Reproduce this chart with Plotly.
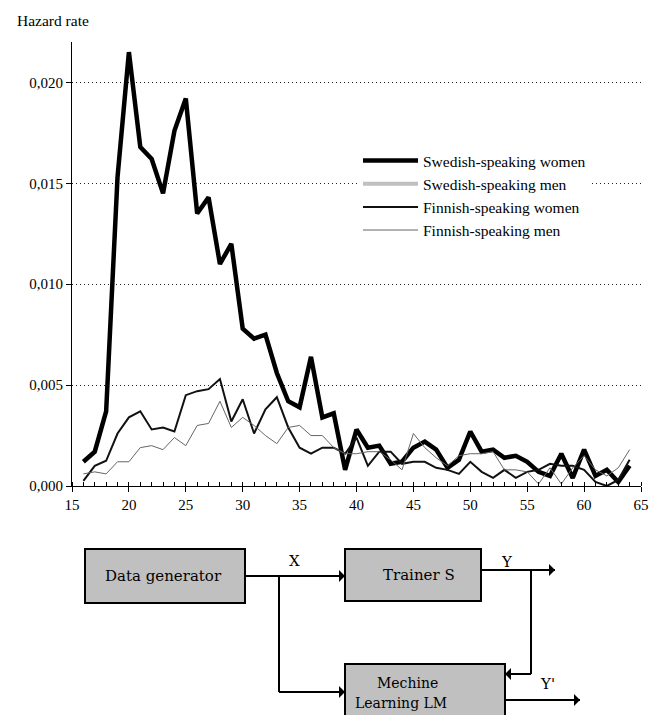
import plotly.graph_objects as go

ages = list(range(16, 65))

swedish_women = [0.0012, 0.0017, 0.0037, 0.0153, 0.0215, 0.0168, 0.0162, 0.0145, 0.0176, 0.0192,
                 0.0135, 0.0143, 0.0110, 0.0120, 0.0078, 0.0073, 0.0075, 0.0056, 0.0042, 0.0039,
                 0.0064, 0.0034, 0.0036, 0.0008, 0.0028, 0.0019, 0.0020, 0.0011, 0.0012, 0.0019,
                 0.0022, 0.0018, 0.0009, 0.0013, 0.0027, 0.0017, 0.0018, 0.0014, 0.0015, 0.0012,
                 0.0007, 0.0005, 0.0016, 0.0004, 0.0018, 0.0005, 0.0008, 0.0002, 0.0010]
# Swedish-speaking men: listed in the legend, but no line is visible in the picture
swedish_men = [None] * len(ages)
finnish_women = [0.00025, 0.0010, 0.00125, 0.0026, 0.0034, 0.0037, 0.0028, 0.0029, 0.0027, 0.0045,
                 0.0047, 0.0048, 0.0053, 0.0032, 0.0043, 0.0026, 0.0038, 0.0044, 0.0029, 0.0019,
                 0.0016, 0.0019, 0.0019, 0.0016, 0.0024, 0.0010, 0.0017, 0.0017, 0.0011, 0.0012,
                 0.0012, 0.0009, 0.0008, 0.0006, 0.0012, 0.0007, 0.0004, 0.0008, 0.0004, 0.0007,
                 0.0008, 0.0011, 0.0010, 0.0010, 0.0008, 0.0002, 0.0000, 0.0003, 0.0013]
finnish_men = [0.0006, 0.0007, 0.0006, 0.0012, 0.0012, 0.0019, 0.0020, 0.0018, 0.0024, 0.0020,
               0.0030, 0.0031, 0.0042, 0.0029, 0.0034, 0.0030, 0.0025, 0.0021, 0.0029, 0.0030,
               0.0025, 0.0025, 0.0019, 0.0016, 0.0016, 0.0017, 0.0017, 0.0013, 0.0008, 0.0026,
               0.0019, 0.0014, 0.0010, 0.0015, 0.0016, 0.0016, 0.0017, 0.0008, 0.0008, 0.0007,
               0.0001, 0.0009, 0.0001, 0.0009, 0.0015, 0.0008, 0.0005, 0.0009, 0.0018]

y_ticks = [0.0, 0.005, 0.010, 0.015, 0.020]

SERIF = "Liberation Serif"
DIAG = "DejaVu Serif"

OFF = 8  # page body margin
W, H = 660 - OFF, 715 - OFF
ML, MR, MT, MB = 72 - OFF, 19, 42 - OFF, 229
PW, PH = W - ML - MR, H - MT - MB


def px(x):
    # x in window pixels -> paper
    return (x - OFF - ML) / PW


def py(y):
    # y in window pixels -> paper
    return (H - MB - (y - OFF)) / PH


fig = go.Figure()
fig.add_trace(go.Scatter(x=ages, y=swedish_women, mode="lines", name="Swedish-speaking women",
                         line=dict(color="black", width=4.5)))
fig.add_trace(go.Scatter(x=ages, y=swedish_men, mode="lines", name="Swedish-speaking men",
                         line=dict(color="#c0c0c0", width=4)))
fig.add_trace(go.Scatter(x=ages, y=finnish_women, mode="lines", name="Finnish-speaking women",
                         line=dict(color="#111111", width=2)))
fig.add_trace(go.Scatter(x=ages, y=finnish_men, mode="lines", name="Finnish-speaking men",
                         line=dict(color="#666666", width=1)))

shapes = []
annotations = []

annotations.append(dict(text="Hazard rate", xref="paper", yref="paper", x=px(15), y=py(20),
                        xanchor="left", yanchor="middle", showarrow=False,
                        font=dict(family=SERIF, size=15.5, color="black")))


def box(x0, y0, x1, y1):
    shapes.append(dict(type="rect", xref="paper", yref="paper", x0=px(x0), x1=px(x1), y0=py(y0), y1=py(y1),
                       fillcolor="#c0c0c0", line=dict(color="black", width=2), layer="above"))


def line(x0, y0, x1, y1):
    shapes.append(dict(type="line", xref="paper", yref="paper", x0=px(x0), x1=px(x1), y0=py(y0), y1=py(y1),
                       line=dict(color="black", width=2), layer="above"))


def arrow(xt, yt, dx):
    annotations.append(dict(text="", xref="paper", yref="paper", x=px(xt), y=py(yt), ax=dx, ay=0,
                            showarrow=True, arrowhead=1, arrowsize=1, arrowwidth=2, arrowcolor="black"))


def label(t, x, y, size=15):
    annotations.append(dict(text=t, xref="paper", yref="paper", x=px(x), y=py(y), showarrow=False,
                            xanchor="center", yanchor="middle",
                            font=dict(family=DIAG, size=size, color="black")))


box(85, 549, 245, 603)
box(345, 549, 481, 601)
box(345, 664, 505, 730)

line(245, 576, 345, 576)
arrow(345, 576, -14)
line(279, 576, 279, 692)
line(279, 692, 345, 692)
arrow(345, 692, -14)
line(481, 570, 555, 570)
arrow(555, 570, -14)
line(531, 570, 531, 674)
line(505, 674, 531, 674)
arrow(505, 674, 14)
line(505, 700, 580, 700)
arrow(580, 700, -14)

label("Data generator", 163, 576)
label("Trainer S", 419, 575)
label("Mechine", 407, 683, 14)
label("Learning LM", 401, 703, 14)
label("X", 294, 561)
label("Y", 507, 562)
label("Y'", 547, 684)

fig.update_layout(
    width=W, height=H,
    margin=dict(l=ML, r=MR, t=MT, b=MB),
    paper_bgcolor="white", plot_bgcolor="white",
    separators=",.",
    font=dict(family=SERIF, size=15, color="black"),
    showlegend=True,
    legend=dict(x=px(358), y=py(144), xanchor="left", yanchor="top", bgcolor="white",
                font=dict(family=SERIF, size=15.5, color="black"), itemwidth=55, tracegroupgap=0),
    xaxis=dict(range=[15, 65], tickmode="linear", tick0=15, dtick=5, ticks="outside", ticklen=5,
               tickcolor="black", showline=True, linecolor="black", linewidth=1, showgrid=False,
               zeroline=False, tickfont=dict(family=SERIF, size=15),
               minor=dict(dtick=1, tick0=15, ticks="inside", ticklen=4, tickcolor="black", showgrid=False)),
    yaxis=dict(range=[0, 0.022], tickmode="array", tickvals=y_ticks, tickformat=".3f", ticks="outside",
               ticklen=5, tickcolor="black", showline=True, linecolor="black", linewidth=1,
               showgrid=True, gridcolor="#222222", griddash="1px,3px", gridwidth=1, zeroline=False,
               tickfont=dict(family=SERIF, size=15)),
    shapes=shapes,
    annotations=annotations,
)

fig.write_html("out.html")
